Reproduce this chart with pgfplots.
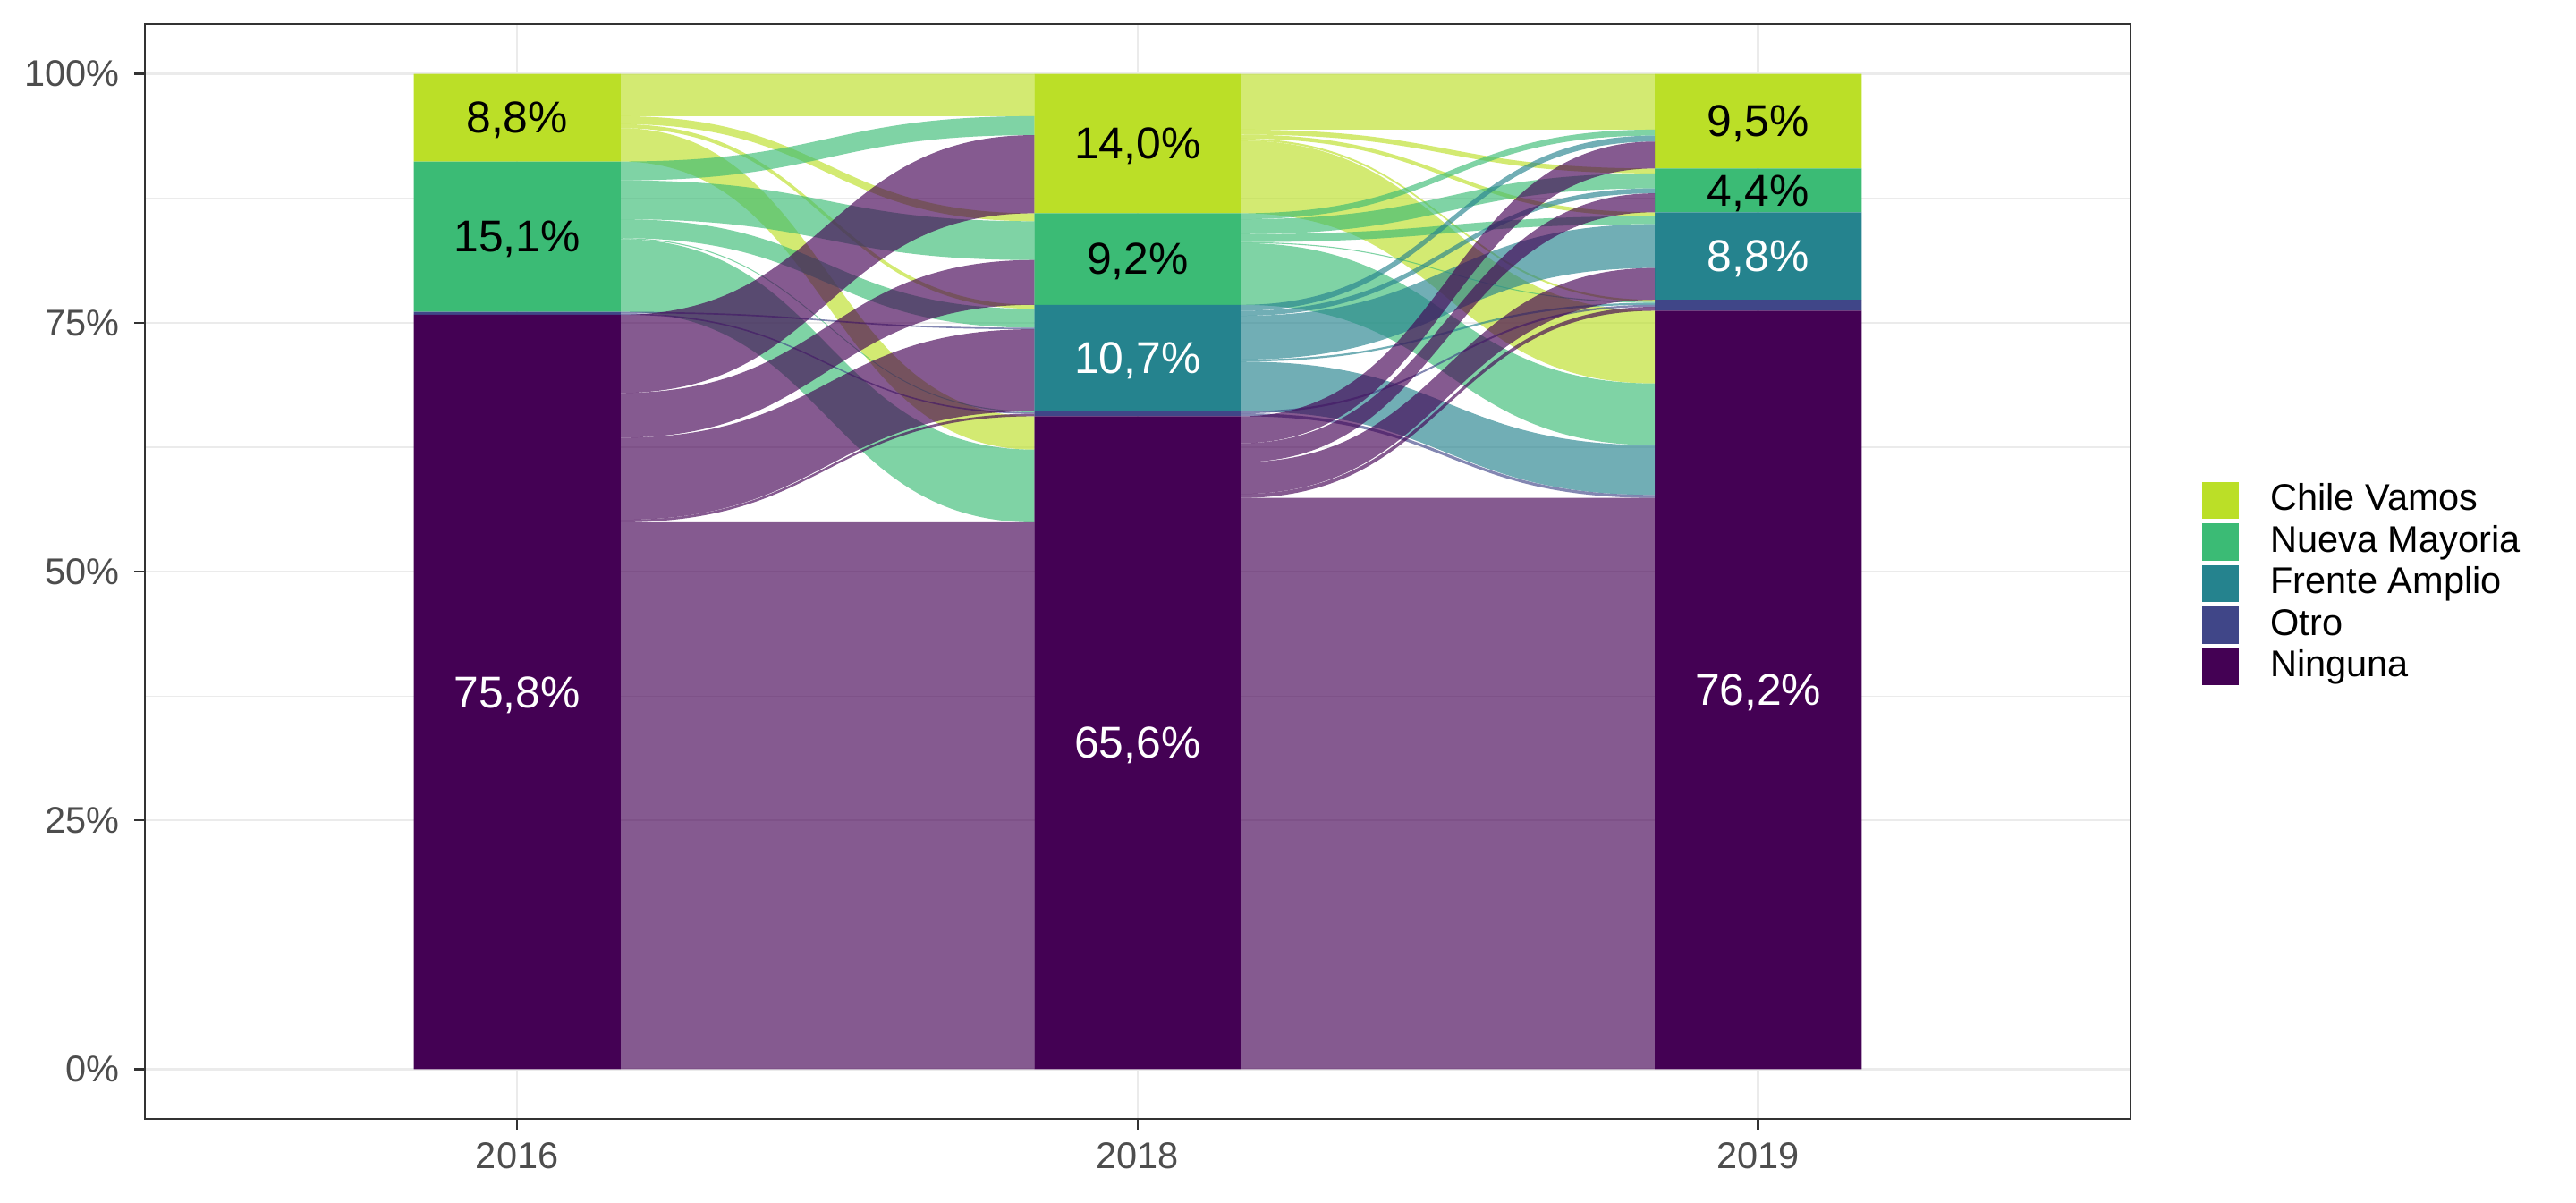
\documentclass[border=0pt]{standalone}
\usepackage{pgfplots}
\pgfplotsset{compat=1.18}
\usepackage{fontspec}
\setmainfont{Liberation Sans}
\definecolor{cv}{HTML}{BBDF27}
\definecolor{nm}{HTML}{3BBB75}
\definecolor{fa}{HTML}{25838E}
\definecolor{ot}{HTML}{404688}
\definecolor{ng}{HTML}{440154}
\definecolor{gridc}{HTML}{EBEBEB}
\definecolor{axc}{HTML}{333333}
\definecolor{tkc}{HTML}{4D4D4D}
% flow: color, x0, xmid, x1, left top, left bottom, right top, right bottom
\newcommand{\flow}[8]{\fill[#1,fill opacity=0.65] (axis cs:#2,#5) .. controls (axis cs:#3,#5) and (axis cs:#3,#7) .. (axis cs:#4,#7) -- (axis cs:#4,#8) .. controls (axis cs:#3,#8) and (axis cs:#3,#6) .. (axis cs:#2,#6) -- cycle;}
\newcommand{\flowA}[5]{\flow{#1}{1.16667}{1.5}{1.83333}{#2}{#3}{#4}{#5}}
\newcommand{\flowB}[5]{\flow{#1}{2.16667}{2.5}{2.83333}{#2}{#3}{#4}{#5}}
\pgfplotsset{sqkey/.style={legend image code/.code={\fill[#1] (0pt,-5pt) rectangle (10pt,5pt);}}}
\begin{document}
\begin{tikzpicture}
\begin{axis}[
  scale only axis, width=534.8pt, height=294.9pt,
  xmin=0.4, xmax=3.6, ymin=-5, ymax=105,
  ybar stacked, bar width=0.33333,
  xtick={1,2,3}, xticklabels={2016,2018,2019},
  ytick={0,25,50,75,100}, yticklabels={0\%,25\%,50\%,75\%,100\%},
  minor ytick={12.5,37.5,62.5,87.5},
  xtick pos=bottom, ytick pos=left,
  xmajorgrids, ymajorgrids, yminorgrids,
  major grid style={gridc, line width=0.55pt},
  minor grid style={gridc, line width=0.3pt},
  minor tick length=0pt,
  tick align=outside, major tick length=2.75pt,
  tick style={axc, line width=0.55pt},
  axis line style={axc, line width=0.65pt},
  ticklabel style={font=\fontsize{10}{12}\selectfont, text=tkc},
  yticklabel style={xshift=-0.5pt},
  /pgf/number format/assume math mode=true,
  legend cell align=left,
  reverse legend,
  legend style={at={(1,0.489)}, anchor=west, xshift=19pt, draw=none, fill=none,
    font=\fontsize{10}{12}\selectfont, inner sep=0pt, row sep=1pt, column sep=8pt,
    nodes={inner sep=0.5pt, text height=7.3pt, text depth=1.9pt}},
]
% ---- flows 2016 -> 2018 (coloured by 2016 group)
\flowA{ng}{54.95}{0}{54.95}{0}
\flowA{ng}{75.8}{67.95}{93.85}{86.0}
\flowA{ng}{67.95}{63.45}{81.3}{76.8}
\flowA{ng}{63.45}{55.2}{74.35}{66.1}
\flowA{ng}{55.2}{54.95}{65.85}{65.6}
\flowA{ot}{76.1}{75.95}{74.5}{74.35}
\flowA{ot}{75.95}{75.8}{66.0}{65.85}
\flowA{nm}{91.2}{89.3}{95.75}{93.85}
\flowA{nm}{89.3}{85.4}{85.2}{81.3}
\flowA{nm}{85.4}{83.5}{76.4}{74.5}
\flowA{nm}{83.5}{83.4}{66.1}{66.0}
\flowA{nm}{83.4}{76.1}{62.25}{54.95}
\flowA{cv}{100}{95.75}{100}{95.75}
\flowA{cv}{95.75}{94.95}{86.0}{85.2}
\flowA{cv}{94.95}{94.55}{76.8}{76.4}
\flowA{cv}{94.55}{91.2}{65.6}{62.25}
% ---- flows 2018 -> 2019 (coloured by 2018 group)
\flowB{ng}{57.4}{0}{57.4}{0}
\flowB{ng}{65.6}{62.9}{93.2}{90.5}
\flowB{ng}{62.9}{61.0}{88.0}{86.1}
\flowB{ng}{61.0}{57.8}{80.5}{77.3}
\flowB{ng}{57.8}{57.4}{76.6}{76.2}
\flowB{ot}{66.1}{65.9}{76.8}{76.6}
\flowB{ot}{65.9}{65.6}{57.7}{57.4}
\flowB{fa}{76.8}{76.2}{93.8}{93.2}
\flowB{fa}{76.2}{75.7}{88.5}{88.0}
\flowB{fa}{75.7}{71.3}{84.9}{80.5}
\flowB{fa}{71.3}{71.1}{77.0}{76.8}
\flowB{fa}{71.1}{66.1}{62.7}{57.7}
\flowB{nm}{86.0}{85.4}{94.4}{93.8}
\flowB{nm}{85.4}{83.9}{90.0}{88.5}
\flowB{nm}{83.9}{83.1}{85.7}{84.9}
\flowB{nm}{83.1}{83.0}{77.1}{77.0}
\flowB{nm}{83.0}{76.8}{68.9}{62.7}
\flowB{cv}{100}{94.4}{100}{94.4}
\flowB{cv}{94.4}{93.9}{90.5}{90.0}
\flowB{cv}{93.9}{93.5}{86.1}{85.7}
\flowB{cv}{93.5}{93.3}{77.3}{77.1}
\flowB{cv}{93.3}{86.0}{76.2}{68.9}
% ---- stacked strata
\addplot[fill=ng, draw=none, sqkey=ng] coordinates {(1,75.8) (2,65.6) (3,76.2)};
\addlegendentry{Ninguna}
\addplot[fill=ot, draw=none, sqkey=ot] coordinates {(1,0.3) (2,0.5) (3,1.1)};
\addlegendentry{Otro}
\addplot[fill=fa, draw=none, sqkey=fa] coordinates {(1,0) (2,10.7) (3,8.8)};
\addlegendentry{Frente Amplio}
\addplot[fill=nm, draw=none, sqkey=nm] coordinates {(1,15.1) (2,9.2) (3,4.4)};
\addlegendentry{Nueva Mayoria}
\addplot[fill=cv, draw=none, sqkey=cv] coordinates {(1,8.8) (2,14.0) (3,9.5)};
\addlegendentry{Chile Vamos}
% ---- label anchors
\coordinate (a1) at (axis cs:1,95.6);
\coordinate (a2) at (axis cs:1,83.65);
\coordinate (a3) at (axis cs:1,37.9);
\coordinate (b1) at (axis cs:2,93.0);
\coordinate (b2) at (axis cs:2,81.4);
\coordinate (b3) at (axis cs:2,71.45);
\coordinate (b4) at (axis cs:2,32.8);
\coordinate (c1) at (axis cs:3,95.25);
\coordinate (c2) at (axis cs:3,88.3);
\coordinate (c3) at (axis cs:3,81.7);
\coordinate (c4) at (axis cs:3,38.1);
\end{axis}
\begin{scope}[every node/.style={font=\fontsize{12}{14}\selectfont, text depth=0pt, inner sep=0pt}]
\node[text=black] at (a1) {8,8\%};
\node[text=black] at (a2) {15,1\%};
\node[text=white] at (a3) {75,8\%};
\node[text=black] at (b1) {14,0\%};
\node[text=black] at (b2) {9,2\%};
\node[text=white] at (b3) {10,7\%};
\node[text=white] at (b4) {65,6\%};
\node[text=black] at (c1) {9,5\%};
\node[text=black] at (c2) {4,4\%};
\node[text=white] at (c3) {8,8\%};
\node[text=white] at (c4) {76,2\%};
\end{scope}
\pgfresetboundingbox
\path ([xshift=-39pt,yshift=-22.4pt]current axis.south west) rectangle ([xshift=120pt,yshift=6.5pt]current axis.north east);
\end{tikzpicture}
\end{document}
